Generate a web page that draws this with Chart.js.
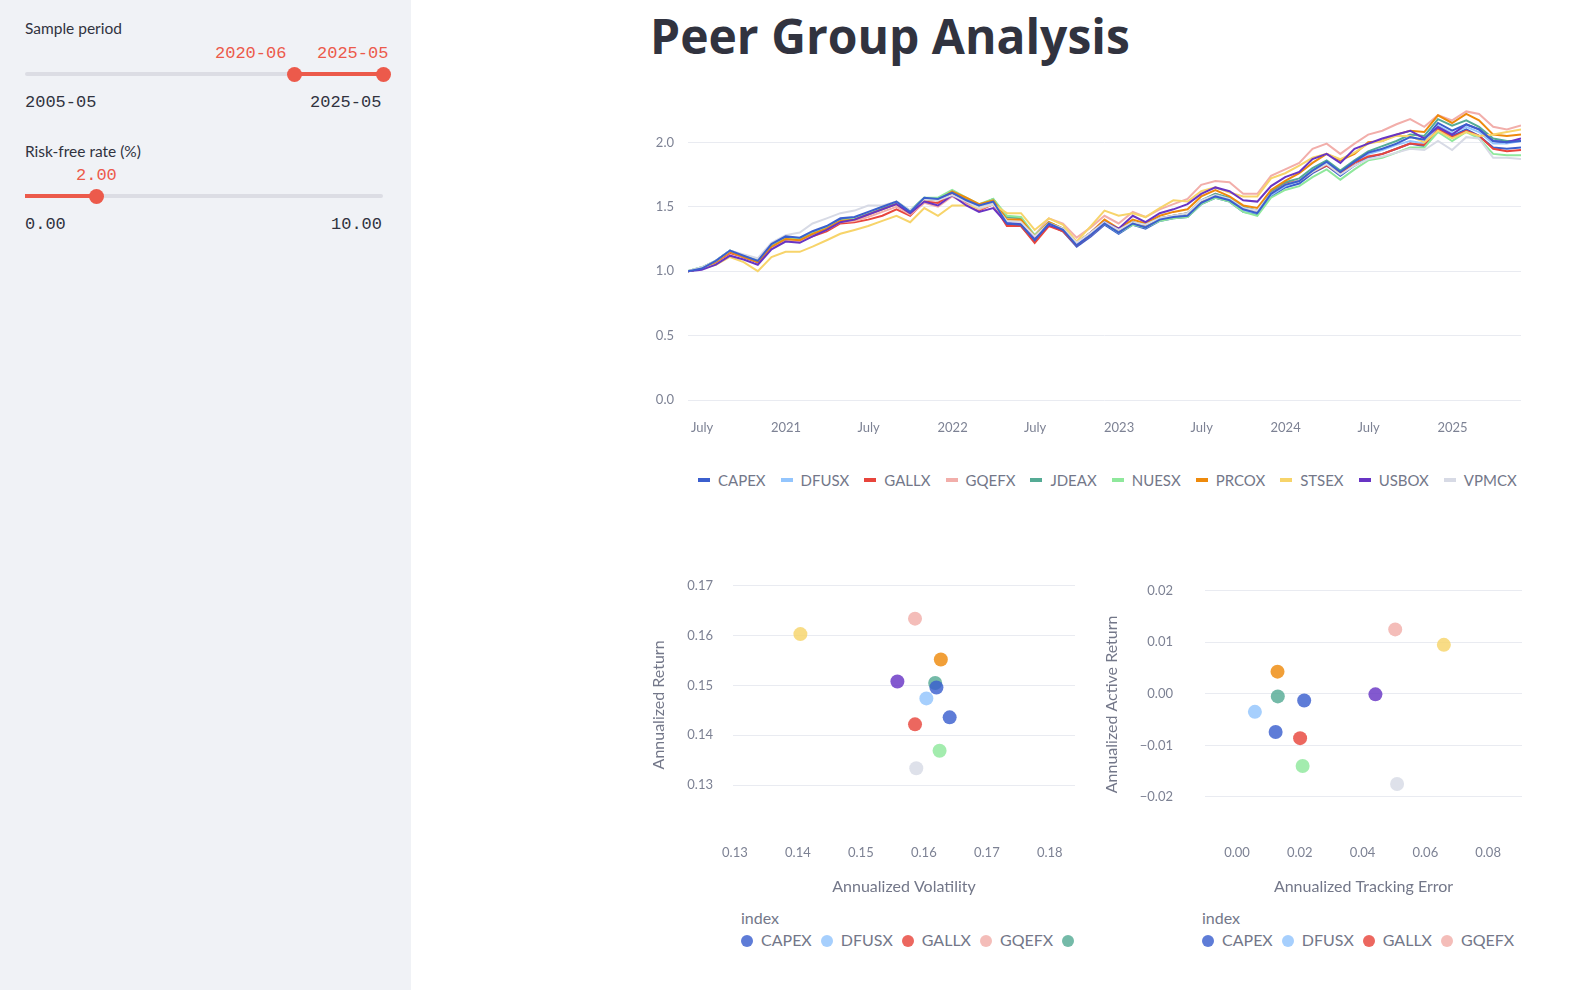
<!DOCTYPE html>
<html>
<head>
<meta charset="utf-8">
<title>Peer Group Analysis</title>
<script src="https://cdn.jsdelivr.net/npm/chart.js@4.4.1/dist/chart.umd.min.js"></script>
<style>
  body { margin: 0; width: 1580px; height: 990px; overflow: hidden; background: #fff;
         font-family: Lato, "Noto Sans", sans-serif; color: #31333f; position: relative; }
  #sidebar { position: absolute; left: 0; top: 0; width: 411px; height: 990px; background: #f0f2f6; }
  .lbl { position: absolute; left: 25px; font-size: 15.5px; line-height: 20px; }
  .mono { position: absolute; font-family: "Liberation Mono", "DejaVu Sans Mono", monospace;
          font-size: 17px; line-height: 20px; white-space: nowrap; }
  .red { color: #ec5a4b; }
  .track { position: absolute; height: 4px; border-radius: 2px; background: #dcdde4; }
  .fill { position: absolute; height: 4px; background: #ec5a4b; }
  .thumb { position: absolute; width: 15px; height: 15px; border-radius: 50%; background: #ec5a4b; }
  h1 { position: absolute; left: 650px; top: 11px; margin: 0; font-family: "Open Sans", "Noto Sans", sans-serif;
       font-size: 48px; line-height: 49px; font-weight: 700; color: #31333f; white-space: nowrap; }
  .box { position: absolute; }
  .leg { position: absolute; overflow: hidden; white-space: nowrap; color: #737789; font-size: 16px; }
  .leg .ttl { height: 24px; line-height: 24px; }
  .leg .it { display: inline-block; margin-right: 9px; }
  .leg .dot { display: inline-block; width: 12px; height: 12px; border-radius: 50%;
              margin-right: 8px; vertical-align: -1px; }
  #legLine { position: absolute; left: 698px; top: 470px; white-space: nowrap; color: #737789;
             font-size: 15px; line-height: 20px; }
  #legLine .it { display: inline-block; margin-right: 15px; }
  #legLine .sw { display: inline-block; width: 12px; height: 4px; margin-right: 8px; vertical-align: 4px; }
</style>
</head>
<body>
<div id="sidebar">
  <div class="lbl" style="top:18px">Sample period</div>
  <div class="mono red" style="left:215px;top:44px">2020-06</div>
  <div class="mono red" style="left:317px;top:44px">2025-05</div>
  <div class="track" style="left:25px;top:72px;width:358px"></div>
  <div class="fill" style="left:294px;top:72px;width:89px"></div>
  <div class="thumb" style="left:287px;top:67px"></div>
  <div class="thumb" style="left:376px;top:67px"></div>
  <div class="mono" style="left:25px;top:93px">2005-05</div>
  <div class="mono" style="left:310px;top:93px">2025-05</div>

  <div class="lbl" style="top:141px">Risk-free rate (%)</div>
  <div class="mono red" style="left:76px;top:166px">2.00</div>
  <div class="track" style="left:25px;top:194px;width:358px"></div>
  <div class="fill" style="left:25px;top:194px;width:71px"></div>
  <div class="thumb" style="left:89px;top:189px"></div>
  <div class="mono" style="left:25px;top:215px">0.00</div>
  <div class="mono" style="left:331px;top:215px">10.00</div>
</div>

<h1>Peer Group Analysis</h1>

<div class="box" style="left:650px;top:78px;width:916px;height:378px"><canvas id="lineChart" width="916" height="378"></canvas></div>
<div id="legLine"></div>
<div class="box" style="left:645px;top:549px;width:440px;height:351px"><canvas id="riskChart" width="440" height="351"></canvas></div>
<div class="box" style="left:1095px;top:536px;width:440px;height:364px"><canvas id="activeChart" width="440" height="364"></canvas></div>

<div class="leg" id="legLeft" style="left:741px;top:906px;width:336px"></div>
<div class="leg" id="legRight" style="left:1202px;top:906px;width:318px"></div>

<script>
// ---- data ----
const tickers = ['CAPEX', 'DFUSX', 'GALLX', 'GQEFX', 'JDEAX', 'NUESX', 'PRCOX', 'STSEX', 'USBOX', 'VPMCX', 'Fund 11'];
const colors = ['#3b5fce', '#93c5fd', '#e8453c', '#f2aeaa', '#55ab95', '#8fe89c', '#ee8a0c', '#f7d46a', '#6834c4', '#d7dae5', '#3b5fce'];

// month-end observations, wealth index (start = 1.0)
const months = [
  '2020-05', '2020-06', '2020-07', '2020-08', '2020-09', '2020-10', '2020-11', '2020-12',
  '2021-01', '2021-02', '2021-03', '2021-04', '2021-05', '2021-06', '2021-07', '2021-08', '2021-09', '2021-10', '2021-11', '2021-12',
  '2022-01', '2022-02', '2022-03', '2022-04', '2022-05', '2022-06', '2022-07', '2022-08', '2022-09', '2022-10', '2022-11', '2022-12',
  '2023-01', '2023-02', '2023-03', '2023-04', '2023-05', '2023-06', '2023-07', '2023-08', '2023-09', '2023-10', '2023-11', '2023-12',
  '2024-01', '2024-02', '2024-03', '2024-04', '2024-05', '2024-06', '2024-07', '2024-08', '2024-09', '2024-10', '2024-11', '2024-12',
  '2025-01', '2025-02', '2025-03', '2025-04', '2025-05'
];

const CAPEX = [1.00, 1.02, 1.07, 1.15, 1.11, 1.07, 1.20, 1.26, 1.25, 1.30, 1.34, 1.40, 1.41, 1.45, 1.49, 1.53, 1.45, 1.56, 1.55, 1.61,
  1.54, 1.50, 1.53, 1.36, 1.35, 1.23, 1.36, 1.31, 1.19, 1.27, 1.36, 1.29, 1.36, 1.33, 1.39, 1.41, 1.42, 1.52, 1.57, 1.54,
  1.46, 1.44, 1.58, 1.65, 1.68, 1.76, 1.82, 1.74, 1.82, 1.88, 1.91, 1.95, 1.99, 1.97, 2.11, 2.05, 2.10, 2.05, 1.96, 1.95, 1.96];
const DFUSX = [1.00, 1.02, 1.08, 1.16, 1.12, 1.09, 1.21, 1.25, 1.24, 1.29, 1.33, 1.39, 1.41, 1.45, 1.49, 1.53, 1.46, 1.56, 1.55, 1.60,
  1.54, 1.50, 1.53, 1.38, 1.37, 1.25, 1.37, 1.32, 1.21, 1.28, 1.37, 1.30, 1.37, 1.34, 1.40, 1.42, 1.43, 1.53, 1.58, 1.55,
  1.47, 1.45, 1.59, 1.66, 1.70, 1.78, 1.84, 1.76, 1.85, 1.91, 1.94, 1.98, 2.01, 1.99, 2.13, 2.07, 2.12, 2.08, 1.99, 1.99, 2.01];
const GALLX = [1.00, 1.02, 1.07, 1.14, 1.11, 1.07, 1.19, 1.24, 1.23, 1.27, 1.31, 1.37, 1.38, 1.40, 1.43, 1.48, 1.43, 1.54, 1.53, 1.60,
  1.53, 1.47, 1.52, 1.35, 1.35, 1.22, 1.35, 1.31, 1.20, 1.28, 1.37, 1.31, 1.38, 1.35, 1.41, 1.43, 1.45, 1.54, 1.60, 1.56,
  1.49, 1.47, 1.61, 1.68, 1.70, 1.77, 1.82, 1.76, 1.84, 1.89, 1.91, 1.95, 1.99, 1.98, 2.10, 2.04, 2.09, 2.05, 1.95, 1.93, 1.94];
const GQEFX = [1.00, 1.02, 1.07, 1.15, 1.11, 1.08, 1.19, 1.24, 1.23, 1.28, 1.32, 1.38, 1.39, 1.42, 1.46, 1.50, 1.44, 1.53, 1.50, 1.58,
  1.52, 1.48, 1.52, 1.40, 1.40, 1.28, 1.41, 1.37, 1.26, 1.34, 1.43, 1.37, 1.46, 1.42, 1.48, 1.52, 1.56, 1.67, 1.70, 1.69,
  1.60, 1.60, 1.74, 1.79, 1.84, 1.95, 1.99, 1.91, 1.99, 2.06, 2.09, 2.14, 2.18, 2.12, 2.21, 2.17, 2.24, 2.22, 2.12, 2.10, 2.13];
const JDEAX = [1.00, 1.03, 1.08, 1.16, 1.12, 1.08, 1.20, 1.25, 1.25, 1.29, 1.33, 1.39, 1.41, 1.45, 1.49, 1.53, 1.47, 1.57, 1.56, 1.62,
  1.56, 1.51, 1.56, 1.42, 1.41, 1.27, 1.38, 1.33, 1.22, 1.30, 1.39, 1.32, 1.38, 1.36, 1.41, 1.43, 1.45, 1.55, 1.60, 1.57,
  1.50, 1.47, 1.62, 1.69, 1.72, 1.80, 1.86, 1.78, 1.86, 1.93, 1.97, 2.01, 2.06, 2.05, 2.18, 2.13, 2.17, 2.12, 2.03, 2.01, 2.01];
const NUESX = [1.00, 1.03, 1.08, 1.16, 1.12, 1.08, 1.20, 1.25, 1.25, 1.30, 1.34, 1.39, 1.41, 1.45, 1.50, 1.54, 1.47, 1.57, 1.57, 1.63,
  1.57, 1.52, 1.56, 1.43, 1.42, 1.28, 1.38, 1.33, 1.21, 1.29, 1.37, 1.30, 1.36, 1.34, 1.39, 1.41, 1.42, 1.52, 1.57, 1.54,
  1.46, 1.43, 1.57, 1.63, 1.66, 1.73, 1.79, 1.71, 1.79, 1.86, 1.88, 1.92, 1.96, 1.96, 2.08, 2.01, 2.08, 2.03, 1.91, 1.90, 1.90];
const PRCOX = [1.00, 1.02, 1.07, 1.15, 1.11, 1.07, 1.19, 1.25, 1.24, 1.29, 1.33, 1.39, 1.40, 1.44, 1.48, 1.52, 1.45, 1.56, 1.55, 1.62,
  1.57, 1.52, 1.55, 1.40, 1.40, 1.27, 1.38, 1.33, 1.22, 1.30, 1.40, 1.33, 1.40, 1.37, 1.43, 1.46, 1.48, 1.58, 1.63, 1.58,
  1.51, 1.49, 1.63, 1.70, 1.76, 1.84, 1.91, 1.86, 1.91, 2.00, 2.01, 2.06, 2.09, 2.08, 2.21, 2.15, 2.22, 2.17, 2.06, 2.05, 2.06];
const STSEX = [1.00, 1.02, 1.05, 1.11, 1.07, 1.00, 1.11, 1.15, 1.15, 1.19, 1.24, 1.29, 1.32, 1.35, 1.39, 1.43, 1.38, 1.49, 1.43, 1.51,
  1.51, 1.49, 1.52, 1.45, 1.45, 1.32, 1.41, 1.36, 1.23, 1.35, 1.47, 1.43, 1.45, 1.42, 1.49, 1.55, 1.54, 1.62, 1.65, 1.61,
  1.58, 1.58, 1.72, 1.76, 1.82, 1.88, 1.91, 1.87, 1.92, 1.99, 2.01, 2.05, 2.05, 2.00, 2.09, 2.03, 2.08, 2.05, 2.06, 2.08, 2.10];
const USBOX = [1.00, 1.01, 1.05, 1.12, 1.09, 1.05, 1.17, 1.23, 1.22, 1.27, 1.32, 1.38, 1.40, 1.44, 1.48, 1.52, 1.45, 1.54, 1.51, 1.59,
  1.51, 1.46, 1.49, 1.37, 1.37, 1.25, 1.36, 1.32, 1.21, 1.30, 1.38, 1.33, 1.43, 1.38, 1.45, 1.48, 1.52, 1.60, 1.65, 1.62,
  1.55, 1.54, 1.66, 1.73, 1.77, 1.87, 1.91, 1.84, 1.95, 1.99, 2.03, 2.06, 2.09, 2.03, 2.12, 2.06, 2.14, 2.10, 2.01, 2.00, 2.03];
const VPMCX = [1.00, 1.03, 1.08, 1.16, 1.13, 1.10, 1.22, 1.28, 1.30, 1.37, 1.41, 1.45, 1.47, 1.51, 1.51, 1.54, 1.47, 1.56, 1.55, 1.59,
  1.54, 1.49, 1.52, 1.39, 1.38, 1.27, 1.37, 1.33, 1.22, 1.30, 1.38, 1.32, 1.38, 1.36, 1.41, 1.43, 1.45, 1.55, 1.59, 1.56,
  1.49, 1.47, 1.60, 1.67, 1.70, 1.77, 1.83, 1.75, 1.82, 1.87, 1.89, 1.92, 1.95, 1.94, 2.01, 1.94, 2.04, 2.03, 1.88, 1.88, 1.87];
const FUND11 = [1.00, 1.02, 1.08, 1.16, 1.12, 1.08, 1.21, 1.27, 1.26, 1.31, 1.35, 1.41, 1.42, 1.46, 1.50, 1.54, 1.46, 1.57, 1.56, 1.61,
  1.55, 1.51, 1.54, 1.37, 1.36, 1.24, 1.37, 1.32, 1.20, 1.28, 1.37, 1.30, 1.37, 1.34, 1.40, 1.42, 1.43, 1.53, 1.58, 1.55,
  1.48, 1.45, 1.60, 1.67, 1.70, 1.78, 1.85, 1.77, 1.85, 1.92, 1.95, 1.99, 2.04, 2.02, 2.15, 2.09, 2.14, 2.10, 2.01, 2.00, 2.01];
const wealth = [CAPEX, DFUSX, GALLX, GQEFX, JDEAX, NUESX, PRCOX, STSEX, USBOX, VPMCX, FUND11];

const xTickDates = ['2020-07-01', '2021-01-01', '2021-07-01', '2022-01-01', '2022-07-01', '2023-01-01', '2023-07-01', '2024-01-01', '2024-07-01', '2025-01-01'];
const xTickText = ['July', '2021', 'July', '2022', 'July', '2023', 'July', '2024', 'July', '2025'];

// risk / return summary (one value per ticker)
const annVol = [0.1641, 0.1604, 0.1586, 0.1586, 0.1618, 0.1625, 0.1627, 0.1404, 0.1558, 0.1588, 0.1620];
const annRet = [0.1436, 0.1474, 0.1422, 0.1634, 0.1505, 0.1369, 0.1552, 0.1603, 0.1508, 0.1334, 0.1496];
const trackErr = [0.0123, 0.0057, 0.0201, 0.0504, 0.0130, 0.0209, 0.0129, 0.0659, 0.0441, 0.0510, 0.0214];
const activeRet = [-0.0074, -0.0035, -0.0086, 0.0125, -0.0005, -0.0140, 0.0043, 0.0095, -0.0001, -0.0175, -0.0013];

// ---- helpers ----
const DAY = 86400000;
function monthEnd(m) { const [y, mo] = m.split('-').map(Number); return Date.UTC(y, mo, 0) / DAY; }
function dayOf(d) { const [y, mo, da] = d.split('-').map(Number); return Date.UTC(y, mo - 1, da) / DAY; }
function alpha(hex, a) {
  const n = parseInt(hex.slice(1), 16);
  return `rgba(${n >> 16},${(n >> 8) & 255},${n & 255},${a})`;
}
const tickColor = '#7d8294';
const gridColor = '#e9ebf1';
const font = { family: 'Lato, "Noto Sans", sans-serif', size: 13 };
const N = tickers.length;

// ---- line chart ----
new Chart(document.getElementById('lineChart'), {
  type: 'line',
  data: {
    datasets: wealth.map((vals, i) => ({
      label: tickers[i],
      data: vals.map((v, j) => ({ x: monthEnd(months[j]), y: v })),
      borderColor: colors[i],
      backgroundColor: colors[i],
      borderWidth: 2,
      pointRadius: 0,
      tension: 0,
      order: N - i
    }))
  },
  options: {
    responsive: false,
    animation: false,
    layout: { padding: { top: 10, right: 45, left: 0, bottom: 0 } },
    plugins: { tooltip: { enabled: false }, legend: { display: false } },
    scales: {
      x: {
        type: 'linear',
        min: monthEnd(months[0]),
        max: monthEnd(months[months.length - 1]),
        grid: { display: false },
        border: { display: false },
        afterFit: (s) => { s.height = 56; },
        afterBuildTicks: (s) => { s.ticks = xTickDates.map(d => ({ value: dayOf(d) })); },
        ticks: {
          padding: 12, color: tickColor, font: font, maxRotation: 0, autoSkip: false,
          callback: (v, i) => xTickText[i]
        }
      },
      y: {
        min: 0, max: 2.33,
        grid: { color: gridColor, drawTicks: false },
        border: { display: false },
        afterFit: (s) => { s.width = 38; },
        ticks: { stepSize: 0.5, includeBounds: false, padding: 14, color: tickColor, font: font,
                 callback: (v) => v.toFixed(1) }
      }
    }
  }
});

// line legend (first ten funds, as shown in the original)
document.getElementById('legLine').innerHTML = tickers.slice(0, 10).map((t, i) =>
  `<span class="it"><span class="sw" style="background:${colors[i]}"></span>${t}</span>`).join('');

// ---- scatter charts ----
function scatter(id, xs, ys, cfg) {
  new Chart(document.getElementById(id), {
    type: 'scatter',
    data: {
      datasets: tickers.map((t, i) => ({
        label: t,
        data: [{ x: xs[i], y: ys[i] }],
        backgroundColor: alpha(colors[i], 0.82),
        borderWidth: 0,
        pointRadius: 7,
        order: N - i
      }))
    },
    options: {
      responsive: false,
      animation: false,
      layout: { padding: { top: 10, right: cfg.right, left: 0, bottom: 0 } },
      plugins: { legend: { display: false }, tooltip: { enabled: false } },
      scales: {
        x: {
          min: cfg.xmin, max: cfg.xmax,
          grid: { display: false },
          border: { display: false },
          afterFit: (s) => { s.height = 67; },
          title: { display: true, text: cfg.xtitle, color: '#737789', font: { family: font.family, size: 16 }, padding: { top: 4, bottom: 4 } },
          ticks: { stepSize: cfg.xstep, includeBounds: false, padding: 4, color: tickColor, font: font,
                   callback: (v) => v.toFixed(2).replace('-', '\u2212') }
        },
        y: {
          min: cfg.ymin, max: cfg.ymax,
          grid: { color: gridColor, drawTicks: false },
          border: { display: false },
          afterFit: (s) => { s.width = cfg.yw; },
          title: { display: true, text: cfg.ytitle, color: '#737789', font: { family: font.family, size: 16 }, padding: { top: cfg.tpad, bottom: 4 } },
          ticks: { stepSize: 0.01, includeBounds: false, padding: cfg.ypad, color: tickColor, font: font,
                   callback: (v) => (Math.abs(v) < 1e-9 ? 0 : v).toFixed(2).replace('-', '\u2212') }
        }
      }
    }
  });
}

scatter('riskChart', annVol, annRet, {
  xmin: 0.1297, xmax: 0.1840, xstep: 0.01, ymin: 0.1204, ymax: 0.1718,
  xtitle: 'Annualized Volatility', ytitle: 'Annualized Return', yw: 88, ypad: 20, right: 10, tpad: 4
});
scatter('activeChart', trackErr, activeRet, {
  xmin: -0.0102, xmax: 0.0908, xstep: 0.02, ymin: -0.0270, ymax: 0.0229,
  xtitle: 'Annualized Tracking Error', ytitle: 'Annualized Active Return', yw: 110, ypad: 32, right: 13, tpad: 7
});

// ---- scatter legends (clipped like the original) ----
function legend(id) {
  const el = document.getElementById(id);
  let html = '<div class="ttl">index</div><div>';
  tickers.slice(0, 10).forEach((t, i) => {
    html += `<span class="it"><span class="dot" style="background:${alpha(colors[i], 0.82)}"></span>${t}</span>`;
  });
  el.innerHTML = html + '</div>';
}
legend('legLeft');
legend('legRight');
</script>
</body>
</html>
